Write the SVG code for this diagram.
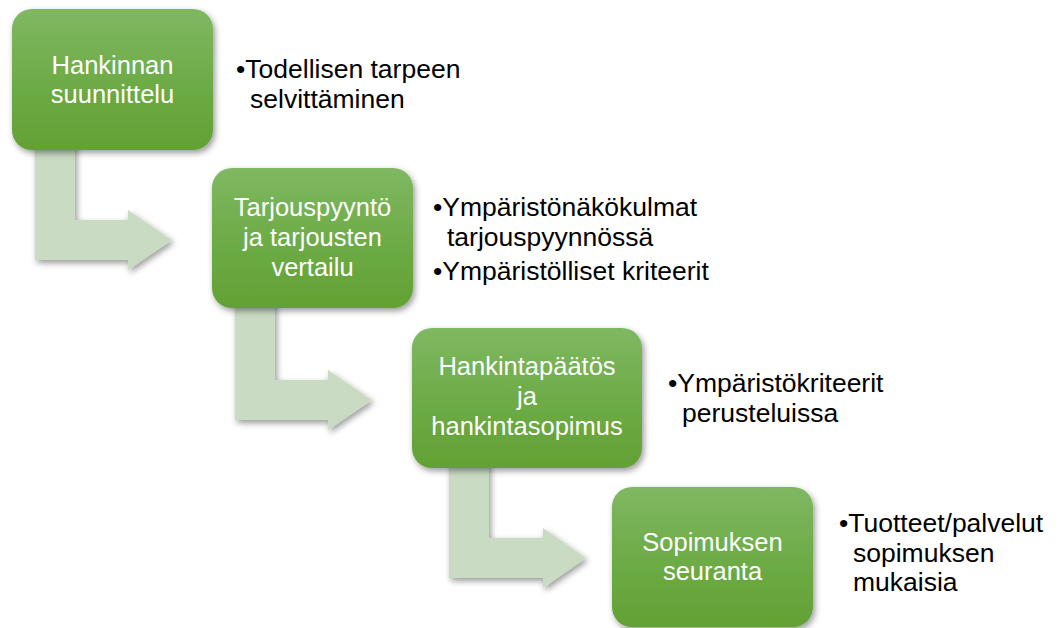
<svg xmlns="http://www.w3.org/2000/svg" width="1060" height="628" viewBox="0 0 1060 628">
<defs>
<linearGradient id="g" x1="0" y1="0" x2="0" y2="1">
<stop offset="0" stop-color="#7fb862"/>
<stop offset="0.5" stop-color="#6eac48"/>
<stop offset="1" stop-color="#62a134"/>
</linearGradient>
<filter id="sh" x="-20%" y="-20%" width="140%" height="140%">
<feDropShadow dx="2" dy="3" stdDeviation="3" flood-color="#000" flood-opacity="0.4"/>
</filter>
<style>
.box{fill:url(#g);filter:url(#sh);}
.arr{fill:#c9dbc2;filter:url(#sh);}
.bt{font-family:"Liberation Sans",Arial,sans-serif;font-size:25.5px;fill:#ffffff;text-anchor:middle;}
.tx{font-family:"Liberation Sans",Arial,sans-serif;font-size:26.5px;fill:#000000;}
</style>
</defs>
<rect width="1060" height="628" fill="#ffffff"/>
<g id="connectors">
<polygon class="arr" points="35,140 75,140 75,220 128,220 128,210 172,240 128,270 128,260 35,260"/>
<polygon class="arr" points="235,300 275,300 275,380 328,380 328,370 372,400 328,430 328,420 235,420"/>
<polygon class="arr" points="449,460 489,460 489,538 543,538 543,528 586,558 543,588 543,578 449,578"/>
</g>
<g id="node1">
<rect class="box" x="12" y="9" width="201" height="141" rx="20"/>
<text class="bt" x="112.5" y="74">Hankinnan</text>
<text class="bt" x="112.5" y="103">suunnittelu</text>
</g>
<g id="node2">
<rect class="box" x="212" y="168" width="201" height="140" rx="20"/>
<text class="bt" x="312.5" y="216">Tarjouspyyntö</text>
<text class="bt" x="312.5" y="246">ja tarjousten</text>
<text class="bt" x="312.5" y="276">vertailu</text>
</g>
<g id="node3">
<rect class="box" x="412" y="328" width="230" height="140" rx="20"/>
<text class="bt" x="527" y="375">Hankintapäätös</text>
<text class="bt" x="527" y="405">ja</text>
<text class="bt" x="527" y="435">hankintasopimus</text>
</g>
<g id="node4">
<rect class="box" x="612" y="487" width="201" height="140" rx="20"/>
<text class="bt" x="712.5" y="551">Sopimuksen</text>
<text class="bt" x="712.5" y="580">seuranta</text>
</g>
<g id="notes1">
<text class="tx" x="236" y="78">•Todellisen tarpeen</text>
<text class="tx" x="250" y="108">selvittäminen</text>
</g>
<g id="notes2">
<text class="tx" x="433" y="216">•Ympäristönäkökulmat</text>
<text class="tx" x="447" y="246">tarjouspyynnössä</text>
<text class="tx" x="433" y="280">•Ympäristölliset kriteerit</text>
</g>
<g id="notes3">
<text class="tx" x="668" y="392">•Ympäristökriteerit</text>
<text class="tx" x="682" y="422">perusteluissa</text>
</g>
<g id="notes4">
<text class="tx" x="839" y="532">•Tuotteet/palvelut</text>
<text class="tx" x="853" y="562">sopimuksen</text>
<text class="tx" x="853" y="591">mukaisia</text>
</g>
</svg>
